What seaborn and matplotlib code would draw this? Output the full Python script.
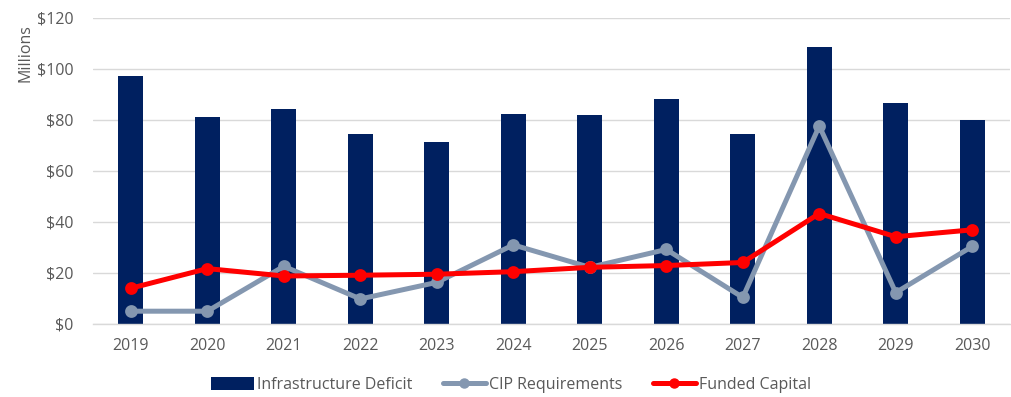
import matplotlib
matplotlib.use("Agg")
import matplotlib.pyplot as plt
from matplotlib.lines import Line2D
from matplotlib.patches import Patch
import seaborn as sns
import pandas as pd

years = ["2019", "2020", "2021", "2022", "2023", "2024",
         "2025", "2026", "2027", "2028", "2029", "2030"]
infrastructure_deficit = [97.3, 81.0, 84.2, 74.6, 71.5, 82.4,
                          81.8, 88.2, 74.6, 108.7, 86.5, 80.0]
cip_requirements = [5.0, 5.0, 22.6, 9.8, 16.3, 31.0,
                    22.2, 29.2, 10.4, 77.6, 12.3, 30.4]
funded_capital = [14.0, 21.7, 18.8, 19.1, 19.5, 20.5,
                  22.2, 22.9, 24.1, 43.3, 34.2, 36.9]
y_ticks = [0, 20, 40, 60, 80, 100, 120]
y_tick_labels = ["$0", "$20", "$40", "$60", "$80", "$100", "$120"]

df = pd.DataFrame({
    "Year": years,
    "Infrastructure Deficit": infrastructure_deficit,
    "CIP Requirements": cip_requirements,
    "Funded Capital": funded_capital,
})

NAVY = "#002060"
STEEL = "#8497B0"
RED = "#FF0000"
TEXT = "#595959"

sns.set_theme(style="white")
plt.rcParams["font.family"] = ["Open Sans", "DejaVu Sans"]

fig = plt.figure(figsize=(10.12, 3.97), dpi=100)
ax = fig.add_axes([0.0915, 0.184, 0.907, 0.771])

sns.barplot(data=df, x="Year", y="Infrastructure Deficit", color=NAVY,
            saturation=1, width=0.33, linewidth=0, ax=ax, zorder=2)

sns.pointplot(data=df, x="Year", y="CIP Requirements", color=STEEL,
              markers="o", markersize=6.5, linewidth=3.6, ax=ax)
sns.pointplot(data=df, x="Year", y="Funded Capital", color=RED,
              markers="o", markersize=6.5, linewidth=3.6, ax=ax)
for ln in ax.lines:
    ln.set_zorder(4 if ln.get_color() in (RED, "#ff0000") else 3)

ax.set_xlim(-0.5, len(years) - 0.5)
ax.set_ylim(0, 120)
ax.set_yticks(y_ticks)
ax.set_yticklabels(y_tick_labels)
ax.grid(axis="y", color="#D9D9D9", linewidth=1.0, zorder=0)
ax.set_axisbelow(True)
for side in ["top", "right", "left"]:
    ax.spines[side].set_visible(False)
ax.spines["bottom"].set_color("#D9D9D9")
ax.spines["bottom"].set_linewidth(1.0)
ax.tick_params(axis="both", length=0, labelsize=11.5, colors=TEXT)
ax.tick_params(axis="x", pad=10)
ax.tick_params(axis="y", pad=14)
ax.set_xlabel("")
ax.set_ylabel("Millions", fontsize=11.5, color=TEXT)
ax.yaxis.set_label_coords(-0.064, 0.885)

handles = [
    Patch(facecolor=NAVY, edgecolor="none", label="Infrastructure Deficit"),
    Line2D([], [], color=STEEL, linewidth=3.6, marker="o", markersize=6.5,
           label="CIP Requirements"),
    Line2D([], [], color=RED, linewidth=3.6, marker="o", markersize=6.5,
           label="Funded Capital"),
]
leg = fig.legend(handles=handles, loc="center", bbox_to_anchor=(0.505, 0.03),
                 ncol=3, frameon=False, fontsize=11.5, handlelength=2.7,
                 handleheight=0.9, handletextpad=0.2, columnspacing=1.9)
for t in leg.get_texts():
    t.set_color(TEXT)

fig.savefig("out.png", dpi=100)
